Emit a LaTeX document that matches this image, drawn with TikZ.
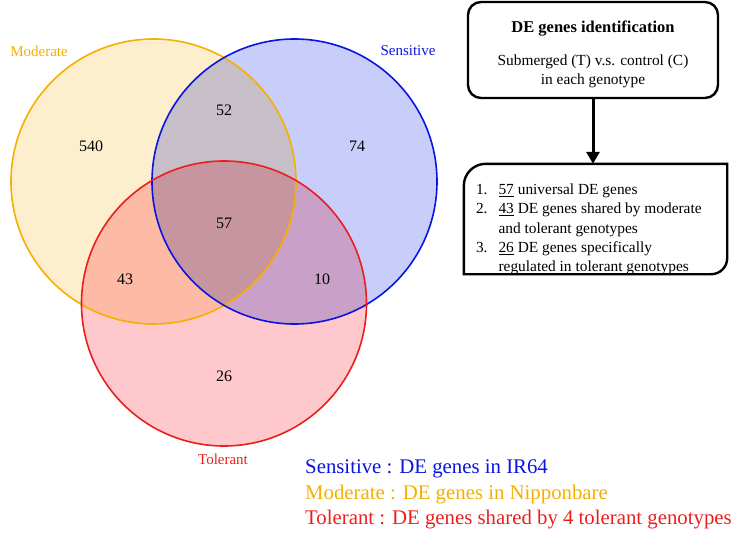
\documentclass[tikz,border=0pt]{standalone}
\usepackage{fontspec}
\setmainfont{Liberation Serif}
\usetikzlibrary{arrows.meta}
\definecolor{modC}{RGB}{245,175,0}
\definecolor{modF}{RGB}{253,238,205}
\definecolor{senC}{RGB}{10,20,225}
\definecolor{senF}{RGB}{200,205,250}
\definecolor{tolC}{RGB}{235,30,30}
\definecolor{tolF}{RGB}{255,200,205}
\begin{document}
\begin{tikzpicture}[x=1pt,y=-1pt,
  vnum/.style={font=\fontsize{16}{18}\selectfont, text=black},
  setlab/.style={font=\fontsize{15}{18}\selectfont},
  legend/.style={anchor=west, font=\fontsize{20.8}{24}\selectfont, inner sep=0pt},
  boxtext/.style={font=\fontsize{15.4}{19.3}\selectfont}]
\useasboundingbox (0,0) rectangle (737,535);
% fills
\begin{scope}[blend group=multiply]
  \fill[modF] (153.5,181.5) circle (142.5);
  \fill[senF] (294.5,181.5) circle (142.5);
  \fill[tolF] (224,303.5) circle (142.5);
\end{scope}
\draw[modC, line width=1.6] (153.5,181.5) circle (142.5);
\draw[senC, line width=1.6] (294.5,181.5) circle (142.5);
\draw[tolC, line width=1.6] (224,303.5) circle (142.5);
% set labels
\node[setlab, text=modC] (lm) at (39,51) {Moderate};
\node[setlab, text=senC] (ls) at (408,51) {Sensitive};
\node[setlab, text=tolC] (lt) at (223,459) {Tolerant};
% numbers
\node[vnum] (n540) at (91,146) {540};
\node[vnum] (n52) at (224,110) {52};
\node[vnum] (n74) at (357,146) {74};
\node[vnum] (n57) at (224,223) {57};
\node[vnum] (n43) at (125,279) {43};
\node[vnum] (n10) at (322,279) {10};
\node[vnum] (n26) at (224,376) {26};
% top box
\node[draw, line width=2.4, rounded corners=13, minimum width=250, minimum height=96,
      align=center, boxtext] (top) at (593,50)
  {\rule{0pt}{20pt}{\fontsize{16.5}{19}\selectfont\bfseries DE genes identification}\\[14pt]Submerged (T) v.s. control (C)\\in each genotype};
% result box
\node[minimum width=263, minimum height=110, inner sep=0pt] (res) at (595.5,219) {};
\draw[line width=2.4] ([xshift=22]res.north west) -- (res.north east)
  -- ([yshift=16]res.south east) arc[start angle=0, end angle=90, radius=16]
  -- (res.south west) -- ([yshift=-22]res.north west)
  arc[start angle=180, end angle=270, radius=22] -- cycle;
\node[anchor=north west, inner sep=0pt, boxtext, align=left] (items) at ([xshift=12,yshift=-17]res.north west)
{\begin{tabular}{@{}l@{\hspace{11pt}}l@{}}
1. & \underline{57} universal DE genes\\
2. & \underline{43} DE genes shared by moderate\\
   & and tolerant genotypes\\
3. & \underline{26} DE genes specifically\\
   & regulated in tolerant genotypes
\end{tabular}};
\draw[line width=3, -{Triangle[length=12,width=13]}] (top.south) -- (top.south |- res.north);
% legend
\node[legend, text=senC] (g1) at (305,469) {Sensitive : DE genes in IR64};
\node[legend, text=modC] (g2) at (305,495) {Moderate : DE genes in Nipponbare};
\node[legend, text=tolC] (g3) at (305,520) {Tolerant : DE genes shared by 4 tolerant genotypes};
\end{tikzpicture}
\end{document}
